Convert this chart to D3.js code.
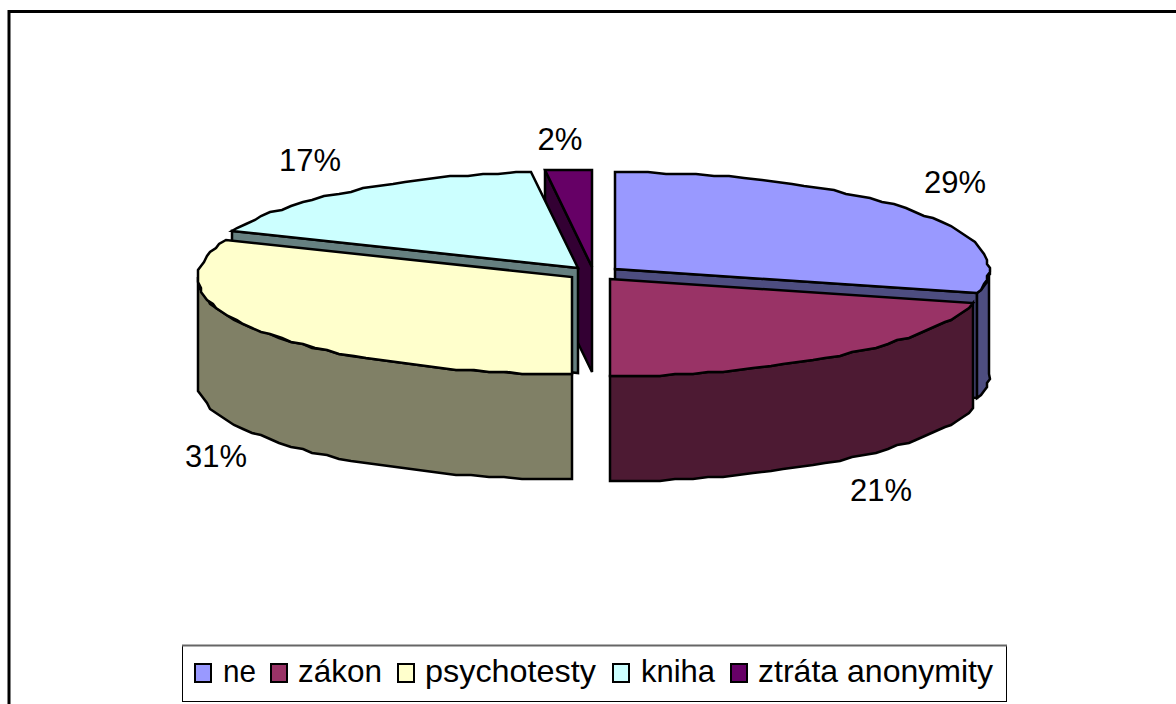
<!DOCTYPE html>
<html>
<head>
<meta charset="utf-8">
<script src="https://cdnjs.cloudflare.com/ajax/libs/d3/7.8.5/d3.min.js"></script>
<style>
html, body { margin: 0; padding: 0; background: #fff; overflow: hidden; }
text { font-family: "Liberation Sans", Arial, sans-serif; fill: #000; }
</style>
</head>
<body>
<script>
var categories = ["ne", "zákon", "psychotesty", "kniha", "ztráta anonymity"];
var values = [29, 21, 31.2, 16.8, 2];
var colors = ["#9999ff", "#993366", "#ffffcc", "#ccffff", "#660066"];
var sideColors = ["#4d4d80", "#4d1a33", "#808066", "#668080", "#330033"];
var labelText = ["29%", "21%", "31%", "17%", "2%"];
var labelX = [955, 881, 216, 310, 560];
var labelY = [193, 501, 467, 171, 150];
var swatchX = [194, 270, 397, 612, 730];
var legendTextX = [223, 298, 425, 641, 758];
var legendTextW = [33, 84, 171, 74, 235];

var width = 1176;
var height = 704;
var depth = 105;
var explode = 0.071;
var labelSize = 31;
var legendSize = 32;

var svg = d3.select("body").append("svg").attr("width", width).attr("height", height).style("display", "block");

svg.append("path")
    .attr("d", "M9,704V11.5H1176")
    .attr("fill", "none")
    .attr("stroke", "#000")
    .attr("stroke-width", 3);

// pie circle in unit coordinates, squashed to an ellipse by the scales
var xScale = d3.scaleLinear().domain([-1, 1]).range([594 - 374, 594 + 374]);
var yScale = d3.scaleLinear().domain([-1, 1]).range([273.5 - 97, 273.5 + 97]);

var pie = d3.pie().sort(null).value(function(d) { return d; });
var arcs = pie(values);

var line = d3.line()
    .x(function(d) { return Math.round(d[0]); })
    .y(function(d) { return Math.round(d[1]); });

function point(d, a, r) {
    var mid = (d.startAngle + d.endAngle) / 2;
    return [
        xScale(explode * Math.sin(mid) + r * Math.sin(a)),
        yScale(-explode * Math.cos(mid) - r * Math.cos(a))
    ];
}

// the original rim is a coarse stepped outline, so snap the inner points to a grid
function rimPoints(d, from, to) {
    var n = Math.max(1, Math.ceil((to - from) / 0.045));
    return d3.range(n + 1).map(function(i) {
        var p = point(d, from + (to - from) * i / n, 1);
        if (i == 0 || i == n) return p;
        return [Math.round(p[0] / 3) * 3, Math.round(p[1] / 2) * 2];
    });
}

function down(p) { return [p[0], p[1] + depth]; }

function drawFace(pts, fill) {
    svg.append("path")
        .attr("d", line(pts) + "Z")
        .attr("fill", fill)
        .attr("stroke", "#000")
        .attr("stroke-width", 2.5)
        .attr("stroke-linejoin", "miter");
}

function radialFace(d, a, fill) {
    var c = point(d, a, 0);
    var p = point(d, a, 1);
    drawFace([c, p, down(p), down(c)], fill);
}

// back slices first
var order = [4, 3, 0, 2, 1];
order.forEach(function(i) {
    var d = arcs[i];
    // straight sides that face the viewer
    if (Math.cos(d.startAngle - Math.PI / 2) < -0.001) radialFace(d, d.startAngle, sideColors[i]);
    if (Math.cos(d.endAngle + Math.PI / 2) < -0.001) radialFace(d, d.endAngle, sideColors[i]);
    // outer wall, front half of the rim only
    var from = Math.max(d.startAngle, Math.PI / 2);
    var to = Math.min(d.endAngle, Math.PI * 1.5);
    if (from < to) {
        var top = rimPoints(d, from, to);
        drawFace(top.concat(top.map(down).reverse()), sideColors[i]);
    }
    // top
    drawFace([point(d, d.startAngle, 0)].concat(rimPoints(d, d.startAngle, d.endAngle)), colors[i]);
});

svg.append("g").selectAll("text")
    .data(labelText)
    .enter()
    .append("text")
    .attr("x", function(d, i) { return labelX[i]; })
    .attr("y", function(d, i) { return labelY[i]; })
    .attr("text-anchor", "middle")
    .attr("textLength", function(d) { return d.length == 3 ? 62 : 45; })
    .attr("lengthAdjust", "spacingAndGlyphs")
    .style("font-size", labelSize + "px")
    .text(function(d) { return d; });

var legend = svg.append("g");
legend.append("rect")
    .attr("x", 182.5).attr("y", 645.5).attr("width", 824).attr("height", 56)
    .attr("fill", "#fff").attr("stroke", "#000").attr("stroke-width", 1);
legend.append("line")
    .attr("x1", 182).attr("x2", 1007).attr("y1", 645.5).attr("y2", 645.5)
    .attr("stroke", "#666").attr("stroke-width", 2);

var items = legend.selectAll("g")
    .data(categories)
    .enter()
    .append("g");
items.append("rect")
    .attr("x", function(d, i) { return swatchX[i] + 1; })
    .attr("y", 664)
    .attr("width", 16).attr("height", 18)
    .attr("fill", function(d, i) { return colors[i]; })
    .attr("stroke", "#000").attr("stroke-width", 2);
items.append("text")
    .attr("x", function(d, i) { return legendTextX[i]; })
    .attr("y", 682)
    .attr("textLength", function(d, i) { return legendTextW[i]; })
    .attr("lengthAdjust", "spacingAndGlyphs")
    .style("font-size", legendSize + "px")
    .text(function(d) { return d; });
</script>
</body>
</html>
